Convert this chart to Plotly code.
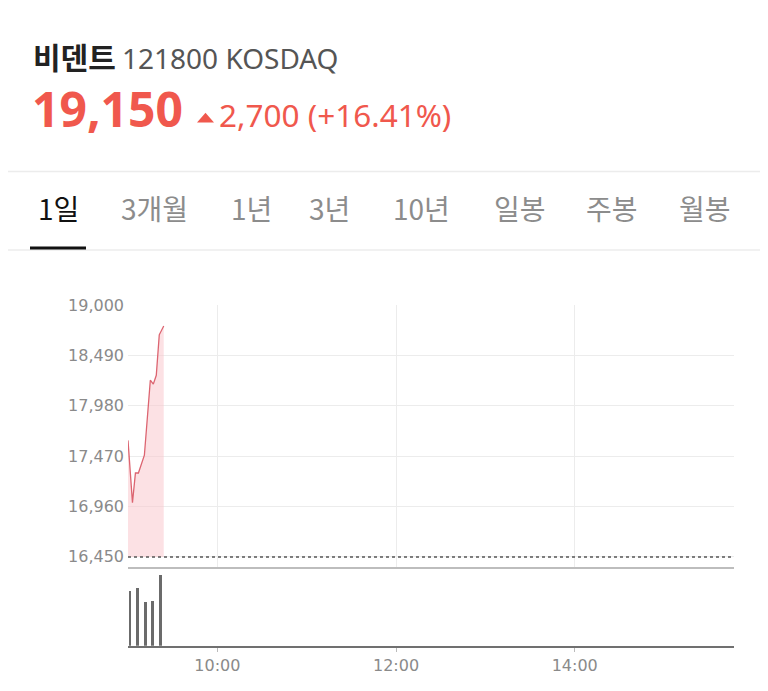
import plotly.graph_objects as go

# ---- data ----
stock_name = "비덴트"
stock_code = "121800 KOSDAQ"
last_price = 19150
change = 2700
change_pct = 16.41
prev_close = last_price - change  # 16,450

tabs = ["1일", "3개월", "1년", "3년", "10년", "일봉", "주봉", "월봉"]

price_times = ["09:00", "09:03", "09:05", "09:07", "09:11", "09:15",
               "09:17", "09:19", "09:21", "09:24"]
price_values = [17630, 17000, 17300, 17300, 17480, 18240, 18200, 18290, 18700, 18790]

vol_times = ["09:01:20", "09:06:30", "09:11:30", "09:16:30", "09:21:30"]
vol_values = [56, 59, 45, 46, 72]

y_ticks = [16450, 16960, 17470, 17980, 18490, 19000]
x_ticks = ["10:00", "12:00", "14:00"]

DAY = "2021-01-01 "
px_t = [DAY + t for t in price_times]
vx_t = [DAY + t for t in vol_times]

W, H = 768, 691
OFF = 8  # page body margin
def fx(p): return (p - OFF) / W
def fy(p): return 1 - (p - OFF) / H

RED = "#f0584d"
LINE = "#dc6470"
FILL = "rgba(250,200,205,0.55)"

fig = go.Figure()

fig.add_trace(go.Scatter(x=px_t, y=[prev_close] * len(px_t), mode="lines",
                         line=dict(width=0, color="rgba(0,0,0,0)"),
                         hoverinfo="skip", showlegend=False, xaxis="x", yaxis="y"))
fig.add_trace(go.Scatter(x=px_t, y=price_values, mode="lines",
                         line=dict(color=LINE, width=1.3),
                         fill="tonexty", fillcolor=FILL,
                         showlegend=False, xaxis="x", yaxis="y"))
fig.add_trace(go.Bar(x=vx_t, y=vol_values, marker=dict(color="#6b6b6b", line=dict(width=0)),
                     width=120000, showlegend=False, xaxis="x2", yaxis="y2"))

x_range = [DAY + "09:00:00", DAY + "15:47:00"]
x_dom = [fx(128), fx(734)]
tick_font = dict(size=16, color="#8a8a8a", family="DejaVu Sans")

fig.update_layout(
    width=W, height=H,
    margin=dict(l=0, r=0, t=0, b=0),
    paper_bgcolor="white", plot_bgcolor="white",
    font=dict(family="Noto Sans", color="#888"),
    bargap=0,
    xaxis=dict(domain=x_dom, range=x_range, anchor="y", type="date",
               tickvals=[DAY + t for t in x_ticks], showticklabels=False,
               showgrid=True, gridcolor="#ececec", gridwidth=1,
               showline=True, linecolor="#bdbdbd", linewidth=2,
               zeroline=False, ticks=""),
    yaxis=dict(domain=[fy(565), fy(300)], range=[16350, 19000],
               tickvals=y_ticks, ticktext=[f"{v:,}" for v in y_ticks],
               tickfont=tick_font,
               showgrid=True, gridcolor="#ececec", gridwidth=1,
               zeroline=False, showline=False, ticks="", ticklabelstandoff=3),
    xaxis2=dict(domain=x_dom, range=x_range, anchor="y2", type="date", matches="x",
                tickvals=[DAY + t for t in x_ticks], ticktext=x_ticks,
                tickfont=tick_font,
                showgrid=False, showline=True, linecolor="#707070", linewidth=2,
                ticks="outside", ticklen=4, tickcolor="#bbb", tickwidth=1,
                zeroline=False),
    yaxis2=dict(domain=[fy(645), fy(565)], range=[0, 80], showticklabels=False,
                showgrid=False, zeroline=False, showline=False),
)

tri = f"M {fx(197)} {fy(115)} L {fx(214)} {fy(115)} L {fx(205.5)} {fy(105)} Z"
shapes = [
    dict(type="line", xref="paper", yref="paper", x0=0, x1=1, y0=fy(164.5), y1=fy(164.5),
         line=dict(color="#ececec", width=1.5)),
    dict(type="line", xref="paper", yref="paper", x0=0, x1=1, y0=fy(244), y1=fy(244),
         line=dict(color="#ececec", width=1.5)),
    dict(type="line", xref="paper", yref="paper", x0=fx(30), x1=fx(86), y0=fy(242), y1=fy(242),
         line=dict(color="#111", width=3)),
    dict(type="path", xref="paper", yref="paper", path=tri, fillcolor=RED, line=dict(width=0)),
    dict(type="line", xref="x", yref="y", x0=x_range[0], x1=x_range[1],
         y0=prev_close, y1=prev_close, line=dict(color="#555", width=1.5, dash="dot")),
]
fig.update_layout(shapes=shapes)

ann = []
ann.append(dict(x=fx(31), y=fy(48), xref="paper", yref="paper", xanchor="left", yanchor="middle",
                text=f"<b>{stock_name}</b>", showarrow=False,
                font=dict(family="Noto Sans CJK KR", size=30, color="#222")))
ann.append(dict(x=fx(120), y=fy(50), xref="paper", yref="paper", xanchor="left", yanchor="middle",
                text=stock_code, showarrow=False,
                font=dict(family="Noto Sans", size=28, color="#555")))
ann.append(dict(x=fx(30), y=fy(101), xref="paper", yref="paper", xanchor="left", yanchor="middle",
                text=f"<b>{last_price:,}</b>", showarrow=False,
                font=dict(family="Noto Sans", size=48, color=RED)))
ann.append(dict(x=fx(217), y=fy(107), xref="paper", yref="paper", xanchor="left", yanchor="middle",
                text=f"{change:,} (+{change_pct:.2f}%)", showarrow=False,
                font=dict(family="Noto Sans", size=31.5, color=RED)))

tab_centers = [58.5, 154.5, 251, 329.5, 421.5, 519.5, 611.5, 704.5]
for i, (t, cx) in enumerate(zip(tabs, tab_centers)):
    ann.append(dict(x=fx(cx), y=fy(202), xref="paper", yref="paper", xanchor="center", yanchor="middle",
                    text=t, showarrow=False,
                    font=dict(family="Noto Sans CJK KR", size=28,
                              color="#111" if i == 0 else "#8c8c8c")))
fig.update_layout(annotations=ann)

fig.write_html("out.html")
